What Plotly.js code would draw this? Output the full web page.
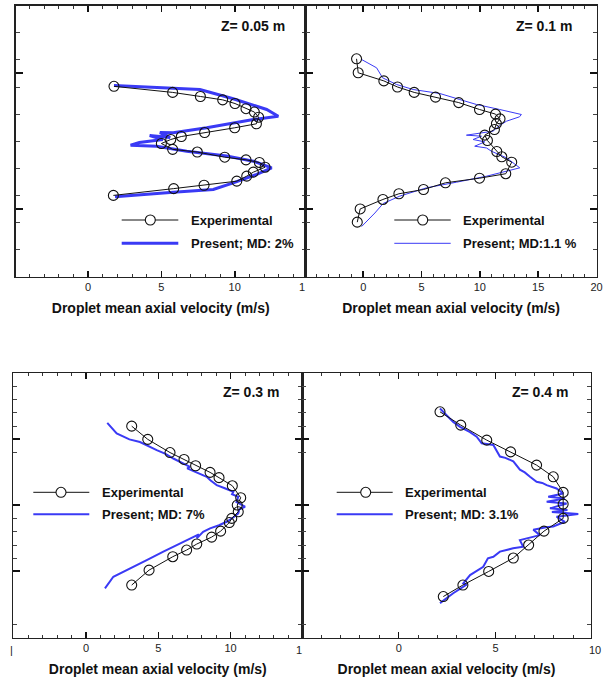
<!DOCTYPE html>
<html><head><meta charset="utf-8">
<script src="https://cdn.plot.ly/plotly-3.0.1.min.js"></script>
<style>html,body{margin:0;padding:0;background:#fff}#chart{width:609px;height:677px}</style>
</head><body><div id="chart"></div>
<script>
// ---- Z = 0.05 m ----
const z005_exp_v = [1.77,5.77,7.66,9.18,10.02,10.77,11.34,11.63,11.48,10.0,7.95,6.36,5.64,5.0,5.77,7.45,9.32,10.77,11.68,12.07,11.27,10.82,10.14,7.91,5.84,1.73];
const z005_exp_r = [0.81,0.72,0.66,0.61,0.556,0.48,0.43,0.354,0.257,0.198,0.128,0.069,0.025,-0.034,-0.12,-0.16,-0.236,-0.275,-0.314,-0.384,-0.457,-0.516,-0.59,-0.65,-0.70,-0.80];
const z005_sim_v = [1.77,5.77,7.63,9.9,11.27,12.18,12.97,11.27,8.09,5.81,4.9,5.6,4.2,5.1,3.5,2.9,4.68,6.73,9.45,11.27,12.52,11.5,9.9,8.54,5.81,1.84];
const z005_sim_r = [0.822,0.78,0.763,0.626,0.527,0.468,0.369,0.32,0.198,0.124,0.128,0.055,0.084,0.025,-0.02,-0.06,-0.074,-0.148,-0.22,-0.295,-0.393,-0.49,-0.614,-0.713,-0.753,-0.82];
// ---- Z = 0.1 m ----
const z01_exp_v = [-0.57,-0.43,1.77,2.94,4.37,6.2,8.19,9.97,11.34,11.73,11.42,11.25,10.42,10.65,11.45,11.88,12.73,12.22,9.97,7.05,5.17,3.06,1.69,-0.26,-0.51];
const z01_exp_r = [1.216,1.01,0.89,0.80,0.72,0.65,0.57,0.468,0.40,0.33,0.26,0.173,0.089,0.01,-0.152,-0.23,-0.31,-0.48,-0.546,-0.614,-0.713,-0.776,-0.86,-1.0,-1.195];
const z01_sim_v = [-0.14,1.15,1.66,2.86,4.28,6.57,8.28,9.71,11.7,13.56,13.4,12.28,11.7,11.13,8.85,10.14,9.42,10.42,9.56,10.57,10.99,12.28,13.42,12.56,10.56,8.0,5.43,3.14,1.71,1.0,-0.14];
const z01_sim_r = [1.206,1.083,0.936,0.837,0.763,0.704,0.615,0.542,0.468,0.394,0.36,0.295,0.232,0.148,0.089,0.074,0.025,-0.01,-0.074,-0.1,-0.148,-0.245,-0.393,-0.428,-0.517,-0.605,-0.688,-0.81,-0.92,-1.06,-1.26];
// ---- Z = 0.3 m ----
const z03_exp_v = [3.16,4.27,5.81,6.78,7.58,8.58,9.2,10.12,10.7,10.46,10.53,10.08,9.91,9.31,8.69,7.66,6.96,6.0,4.36,3.16];
const z03_exp_r = [1.2,1.0,0.80,0.696,0.6,0.5,0.42,0.297,0.116,0.005,-0.097,-0.197,-0.26,-0.39,-0.48,-0.585,-0.676,-0.777,-0.98,-1.206];
const z03_sim_v = [1.47,2.12,3.0,3.73,4.89,5.5,6.04,6.7,7.19,7.0,8.35,8.6,9.04,9.6,10.19,10.1,10.53,10.4,11.0,10.6,10.53,10.2,9.73,9.2,8.58,8.1,7.66,7.8,6.5,5.35,4.2,2.81,1.89,1.31];
const z03_sim_r = [1.25,1.09,1.0,0.96,0.837,0.78,0.71,0.64,0.584,0.56,0.433,0.38,0.307,0.26,0.206,0.17,0.13,0.05,-0.02,-0.06,-0.12,-0.18,-0.248,-0.30,-0.348,-0.40,-0.5,-0.44,-0.575,-0.70,-0.83,-0.98,-1.08,-1.256];
// ---- Z = 0.4 m ----
const z04_exp_v = [2.13,3.2,4.54,5.77,7.11,7.97,8.48,8.48,8.48,7.49,6.7,5.91,4.64,3.31,2.3];
const z04_exp_r = [1.417,1.215,0.988,0.81,0.61,0.433,0.197,0.02,-0.197,-0.39,-0.60,-0.797,-1.0,-1.206,-1.38];
const z04_sim_v = [2.13,2.81,3.16,3.68,4.02,4.28,4.88,5.22,5.5,5.91,6.25,6.5,6.77,7.11,7.4,7.63,8.14,8.48,7.71,8.57,7.63,8.66,7.8,8.7,7.9,9.26,8.14,8.57,7.97,7.6,6.94,7.28,6.25,6.42,5.9,5.22,4.88,4.6,4.36,3.68,3.33,3.5,2.81,2.13];
const z04_sim_r = [1.467,1.264,1.19,1.11,1.04,0.94,0.915,0.74,0.72,0.666,0.54,0.5,0.433,0.357,0.34,0.307,0.257,0.18,0.13,0.106,0.055,0.03,-0.045,-0.07,-0.1,-0.132,-0.172,-0.248,-0.32,-0.33,-0.37,-0.45,-0.525,-0.626,-0.65,-0.70,-0.777,-0.80,-0.93,-1.055,-1.18,-1.2,-1.33,-1.48];

const panelLabels = ['Z= 0.05 m','Z= 0.1 m','Z= 0.3 m','Z= 0.4 m'];
const simLabels = ['Present; MD: 2%','Present; MD:1.1 %','Present; MD: 7%','Present; MD: 3.1%'];
const expLabel = 'Experimental';
const xTitle = 'Droplet mean axial velocity (m/s)';

const W = 609, H = 677;
const px = x => x / W, py = y => 1 - y / H;
const BLUE = '#3a3af5';

function expTrace(v, r, xa, ya) {
  return {x: v, y: r, xaxis: xa, yaxis: ya, type: 'scatter', mode: 'lines+markers',
    line: {color: '#111', width: 1},
    marker: {symbol: 'circle-open', size: 10, color: '#111', line: {width: 1.1}},
    showlegend: false, hoverinfo: 'skip'};
}
function simTrace(v, r, xa, ya, w) {
  return {x: v, y: r, xaxis: xa, yaxis: ya, type: 'scatter', mode: 'lines',
    line: {color: BLUE, width: w}, showlegend: false, hoverinfo: 'skip'};
}
function emptyTrace(xa, ya) {
  return {x: [], y: [], xaxis: xa, yaxis: ya, type: 'scatter', mode: 'lines', showlegend: false, hoverinfo: 'skip'};
}

const data = [
  simTrace(z005_sim_v, z005_sim_r, 'x', 'y', 3),
  expTrace(z005_exp_v, z005_exp_r, 'x', 'y'),
  simTrace(z01_sim_v, z01_sim_r, 'x2', 'y2', 1),
  expTrace(z01_exp_v, z01_exp_r, 'x2', 'y2'),
  simTrace(z03_sim_v, z03_sim_r, 'x3', 'y3', 2),
  expTrace(z03_exp_v, z03_exp_r, 'x3', 'y3'),
  simTrace(z04_sim_v, z04_sim_r, 'x4', 'y4', 2),
  expTrace(z04_exp_v, z04_exp_r, 'x4', 'y4'),
  emptyTrace('x5', 'y5'), emptyTrace('x6', 'y6'), emptyTrace('x7', 'y7'), emptyTrace('x8', 'y8'),
];

const FONT = 'Liberation Sans, Arial, sans-serif';
const tickFont = {family: FONT, size: 11, color: '#222'};
const titleFont = {family: FONT, size: 14, color: '#111', weight: 'bold'};

function range(a, b) { const o = []; for (let i = Math.ceil(a); i <= Math.floor(b); i++) o.push(i); return o; }

// base x axis: minor ticks every 1 m/s, labels on multiples of 5
function xax(domain, rng, labelVals, anchor) {
  const vals = range(rng[0], rng[1]);
  const text = vals.map(v => labelVals.includes(v) ? String(v) : '');
  return {domain: domain, range: rng, anchor: anchor, tickmode: 'array', tickvals: vals, ticktext: text,
    ticks: 'inside', ticklen: 3, tickwidth: 1, tickcolor: '#333',
    showline: true, linecolor: '#222', linewidth: 1.5, mirror: 'ticks',
    showgrid: false, zeroline: false, tickfont: tickFont,
    title: {text: xTitle, font: titleFont, standoff: 11}};
}
// overlay x axis: long major ticks only
function xmaj(over, domain, rng, majors, anchor) {
  return {overlaying: over, domain: domain, range: rng, anchor: anchor, side: 'bottom', tickmode: 'array', tickvals: majors,
    ticks: 'inside', ticklen: 6, tickwidth: 1.6, tickcolor: '#111', showticklabels: false,
    showline: true, linecolor: '#222', linewidth: 1.5, mirror: 'ticks', showgrid: false, zeroline: false};
}
function yax(domain, anchor, minors) {
  return {domain: domain, range: [-2, 2], anchor: anchor, tickmode: 'array', tickvals: minors,
    ticks: 'inside', ticklen: 4, tickwidth: 1, tickcolor: '#444', showticklabels: false,
    showline: true, linecolor: '#222', linewidth: 1.5, mirror: 'ticks',
    showgrid: false, zeroline: false};
}
function ymaj(over, domain, anchor, majors) {
  return {overlaying: over, domain: domain, range: [-2, 2], anchor: anchor, side: 'left', tickmode: 'array', tickvals: majors,
    ticks: 'inside', ticklen: 7, tickwidth: 2, tickcolor: '#111', showticklabels: false,
    showline: true, linecolor: '#222', linewidth: 1.5, mirror: 'ticks', showgrid: false, zeroline: false};
}

const topY = [py(276.7), py(5.7)];
const botY = [py(637.5), py(373.3)];
const topMinor = [-1.6,-1.2,-0.8,-0.4,0,0.4,0.8,1.2,1.6];
const botMinor = [1.8,1.6,1.4,1.2,0.8,-0.2,-0.4,-0.6,-0.8,-1.8];
const topMajor = [-1, 1];
const botMajor = [-1, 0, 1];

const annotations = [];
const shapes = [];
function txt(x, y, t, opts) {
  annotations.push(Object.assign({xref: 'paper', yref: 'paper', x: px(x), y: py(y), text: t, showarrow: false,
    xanchor: 'left', yanchor: 'middle', font: {family: FONT, size: 13, color: '#111'}}, opts || {}));
}
function legend(x0, x1, xc, ty, yExp, ySim, label, simW) {
  shapes.push({type: 'line', xref: 'paper', yref: 'paper', x0: px(x0), x1: px(x1), y0: py(yExp), y1: py(yExp), line: {color: '#111', width: 1}});
  shapes.push({type: 'circle', xref: 'paper', yref: 'paper', x0: px(xc - 5), x1: px(xc + 5), y0: py(yExp + 5), y1: py(yExp - 5), line: {color: '#111', width: 1.1}, fillcolor: '#fff'});
  shapes.push({type: 'line', xref: 'paper', yref: 'paper', x0: px(x0), x1: px(x1), y0: py(ySim), y1: py(ySim), line: {color: BLUE, width: simW}});
  txt(ty, yExp, expLabel, {font: {family: FONT, size: 13, color: '#111', weight: 'bold'}});
  txt(ty, ySim, label, {font: {family: FONT, size: 13, color: '#111', weight: 'bold'}});
}
legend(121.7, 178.3, 150.3, 189.3, 220, 243.3, simLabels[0], 3);
legend(394.3, 450.7, 422.7, 461, 220, 243.3, simLabels[1], 1);
legend(33.3, 89.3, 61, 100, 492.3, 514.3, simLabels[2], 2);
legend(336.7, 392.7, 365.7, 403.3, 492.3, 514.3, simLabels[3], 2);

const zf = {family: FONT, size: 14, color: '#111', weight: 'bold'};
txt(252.5, 26, panelLabels[0], {xanchor: 'center', font: zf});
txt(543.8, 26, panelLabels[1], {xanchor: 'center', font: zf});
txt(251, 391.7, panelLabels[2], {xanchor: 'center', font: zf});
txt(539.7, 391.7, panelLabels[3], {xanchor: 'center', font: zf});
// truncated tick labels from the cropped source panels
txt(302, 287.3, '1', {xanchor: 'center', font: tickFont});
txt(298.5, 650, '1', {xanchor: 'center', font: tickFont});
txt(11.7, 650, '|', {xanchor: 'center', font: tickFont});
txt(595, 650, '10', {xanchor: 'center', font: tickFont});

const d1 = [px(15.7), px(305.7)], r1 = [-4.93, 14.84];
const d2 = [px(305.7), px(596.5)], r2 = [-4.93, 20];
const d3 = [px(13.3), px(302.3)], r3 = [-5.03, 14.96];
const d4 = [px(302.3), px(590.7)], r4 = [-4.97, 9.9];

const layout = {
  width: W, height: H, margin: {l: 0, r: 0, t: 0, b: 0},
  paper_bgcolor: '#fff', plot_bgcolor: '#fff', showlegend: false,
  xaxis: xax(d1, r1, [0, 5, 10], 'y'),
  yaxis: yax(topY, 'x', topMinor),
  xaxis2: xax(d2, r2, [0, 5, 10, 15, 20], 'y2'),
  yaxis2: yax(topY, 'x2', topMinor),
  xaxis3: xax(d3, r3, [0, 5, 10], 'y3'),
  yaxis3: yax(botY, 'x3', botMinor),
  xaxis4: xax(d4, r4, [0, 5], 'y4'),
  yaxis4: yax(botY, 'x4', botMinor),
  xaxis5: xmaj('x', d1, r1, [0, 5, 10], 'y5'),
  yaxis5: ymaj('y', topY, 'x5', topMajor),
  xaxis6: xmaj('x2', d2, r2, [0, 5, 10, 15, 20], 'y6'),
  yaxis6: ymaj('y2', topY, 'x6', topMajor),
  xaxis7: xmaj('x3', d3, r3, [0, 5, 10], 'y7'),
  yaxis7: ymaj('y3', botY, 'x7', botMajor),
  xaxis8: xmaj('x4', d4, r4, [0, 5], 'y8'),
  yaxis8: ymaj('y4', botY, 'x8', botMajor),
  annotations: annotations, shapes: shapes
};
Plotly.newPlot('chart', data, layout, {staticPlot: true});
</script></body></html>
